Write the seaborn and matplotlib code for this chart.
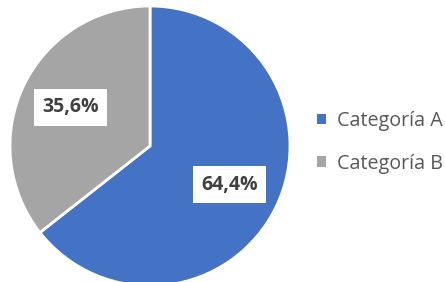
import matplotlib
matplotlib.use("Agg")
import matplotlib.pyplot as plt
import seaborn as sns
from matplotlib.patches import Patch

# Datos
categorias = ['Categoría A', 'Categoría B']
valores = [64.4, 35.6]
colores = ['#4472C4', '#A5A5A5']

sns.set_style("white")
plt.rcParams['font.family'] = ['Open Sans', 'DejaVu Sans']

fig = plt.figure(figsize=(4.45, 2.82), dpi=100)
ax = fig.add_axes([10 / 445, -4 / 282, 280 / 445, 280 / 282])

wedges, textos, autotextos = ax.pie(
    valores,
    colors=colores,
    startangle=90,
    counterclock=False,
    autopct=lambda p: f"{p:.1f}%".replace('.', ','),
    pctdistance=0.63,
    wedgeprops={'edgecolor': 'white', 'linewidth': 2},
    textprops={'fontsize': 14, 'fontweight': 'bold', 'color': '#404040'},
)
for t in autotextos:
    t.set_bbox({'facecolor': 'white', 'edgecolor': 'none', 'pad': 6})
ax.set_xlim(-1, 1)
ax.set_ylim(-1, 1)
ax.set_aspect('equal')

handles = [Patch(facecolor=c, edgecolor='none') for c in colores]
fig.legend(handles, categorias, loc='center left', bbox_to_anchor=(0.712, 0.495),
           frameon=False, fontsize=14.2, labelcolor='#595959',
           handlelength=0.45, handleheight=0.45, handletextpad=0.55,
           labelspacing=1.15, borderpad=0, borderaxespad=0)

fig.savefig('out.png', dpi=100)
